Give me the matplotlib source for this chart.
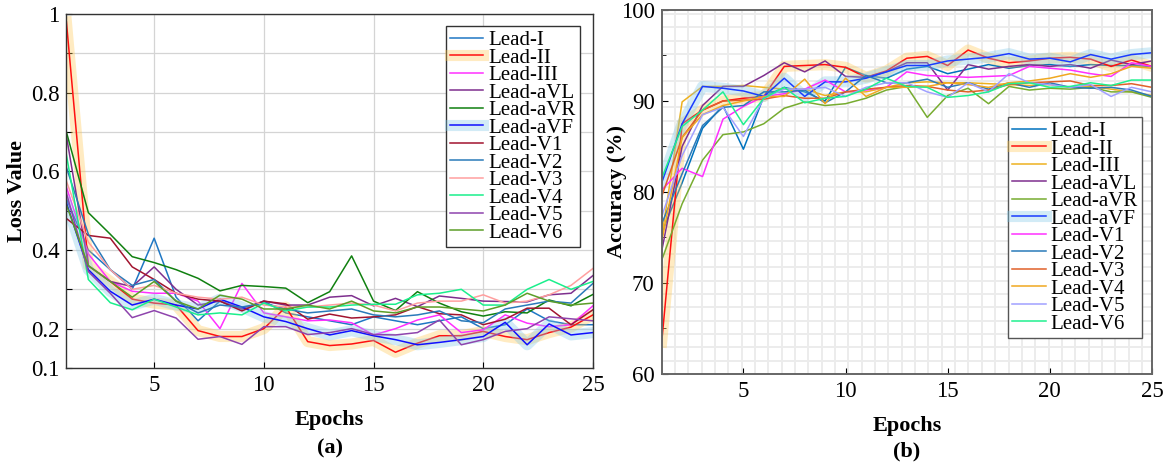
import numpy as np
import matplotlib
matplotlib.use("Agg")
import matplotlib.pyplot as plt
import matplotlib.patheffects as pe

plt.rcParams['font.family'] = ['Liberation Serif', 'DejaVu Serif']

epochs = np.arange(1, 26)
leads = ["Lead-I", "Lead-II", "Lead-III", "Lead-aVL", "Lead-aVR", "Lead-aVF",
         "Lead-V1", "Lead-V2", "Lead-V3", "Lead-V4", "Lead-V5", "Lead-V6"]

# (a) loss per epoch
loss_I   = [0.53, 0.40, 0.35, 0.30, 0.43, 0.28, 0.22, 0.27, 0.25, 0.27, 0.24, 0.23, 0.22,
            0.21, 0.23, 0.22, 0.21, 0.22, 0.23, 0.20, 0.21, 0.25, 0.22, 0.21, 0.21]
loss_II  = [0.98, 0.36, 0.32, 0.275, 0.265, 0.26, 0.195, 0.18, 0.18, 0.20, 0.255, 0.167, 0.157,
            0.161, 0.17, 0.14, 0.163, 0.182, 0.182, 0.193, 0.18, 0.172, 0.19, 0.204, 0.235]
loss_III = [0.56, 0.39, 0.32, 0.295, 0.29, 0.29, 0.27, 0.20, 0.315, 0.24, 0.23, 0.22, 0.222,
            0.215, 0.184, 0.20, 0.222, 0.235, 0.19, 0.197, 0.235, 0.214, 0.205, 0.21, 0.258]
loss_aVL = [0.69, 0.36, 0.32, 0.307, 0.357, 0.30, 0.26, 0.27, 0.25, 0.27, 0.26, 0.26, 0.28,
            0.284, 0.258, 0.277, 0.256, 0.283, 0.277, 0.27, 0.269, 0.268, 0.286, 0.29, 0.335]
loss_aVR = [0.70, 0.495, 0.44, 0.383, 0.368, 0.35, 0.328, 0.296, 0.31, 0.307, 0.303, 0.266, 0.294,
            0.385, 0.27, 0.246, 0.294, 0.265, 0.243, 0.232, 0.243, 0.24, 0.273, 0.258, 0.287]
loss_aVF = [0.52, 0.35, 0.295, 0.26, 0.275, 0.26, 0.25, 0.275, 0.255, 0.23, 0.218, 0.20, 0.184,
            0.195, 0.182, 0.172, 0.159, 0.165, 0.172, 0.18, 0.216, 0.159, 0.212, 0.184, 0.19]
loss_V1  = [0.48, 0.437, 0.43, 0.357, 0.325, 0.29, 0.275, 0.27, 0.245, 0.27, 0.263, 0.224, 0.237,
            0.227, 0.23, 0.235, 0.256, 0.238, 0.235, 0.21, 0.224, 0.252, 0.252, 0.21, 0.248]
loss_V2  = [0.61, 0.44, 0.35, 0.31, 0.325, 0.27, 0.24, 0.26, 0.255, 0.265, 0.25, 0.24, 0.245,
            0.25, 0.235, 0.23, 0.235, 0.245, 0.22, 0.215, 0.25, 0.26, 0.27, 0.265, 0.315]
loss_V3  = [0.575, 0.42, 0.35, 0.30, 0.31, 0.29, 0.28, 0.275, 0.28, 0.26, 0.255, 0.255, 0.26,
            0.265, 0.26, 0.245, 0.265, 0.27, 0.27, 0.286, 0.265, 0.27, 0.286, 0.31, 0.353]
loss_V4  = [0.642, 0.325, 0.266, 0.248, 0.275, 0.255, 0.235, 0.24, 0.235, 0.265, 0.245, 0.255, 0.255,
            0.26, 0.262, 0.262, 0.286, 0.29, 0.30, 0.26, 0.26, 0.30, 0.325, 0.30, 0.32]
loss_V5  = [0.545, 0.345, 0.29, 0.228, 0.246, 0.227, 0.173, 0.18, 0.16, 0.205, 0.205, 0.185, 0.19,
            0.20, 0.185, 0.184, 0.19, 0.222, 0.159, 0.172, 0.193, 0.20, 0.23, 0.225, 0.22]
loss_V6  = [0.515, 0.36, 0.32, 0.28, 0.32, 0.27, 0.25, 0.285, 0.275, 0.25, 0.25, 0.26, 0.25,
            0.27, 0.245, 0.24, 0.255, 0.255, 0.25, 0.245, 0.26, 0.29, 0.27, 0.26, 0.265]

# (b) accuracy per epoch (%)
acc_I   = [75.5, 81.0, 87.0, 89.5, 84.7, 90.5, 91.5, 91.0, 90.0, 93.7, 92.8, 92.5, 93.5,
           93.8, 93.0, 93.5, 94.0, 93.6, 93.9, 94.0, 93.8, 94.0, 93.9, 93.9, 93.8]
acc_II  = [63.5, 87.5, 89.0, 90.0, 90.3, 90.5, 93.8, 93.9, 94.0, 93.7, 92.6, 93.3, 94.7,
           94.9, 93.9, 95.6, 94.7, 94.2, 94.4, 94.7, 94.8, 94.6, 93.8, 94.5, 93.8]
acc_III = [75.0, 89.9, 91.6, 91.6, 91.7, 91.5, 91.3, 91.3, 90.6, 91.0, 91.0, 91.5, 92.0,
           92.1, 92.0, 92.0, 91.9, 91.8, 91.7, 91.8, 91.5, 91.6, 91.3, 91.0, 90.6]
acc_aVL = [73.5, 85.0, 89.5, 91.6, 91.6, 92.8, 94.2, 93.2, 94.4, 92.7, 92.6, 93.2, 94.2,
           94.2, 91.2, 94.0, 93.5, 93.8, 94.0, 93.8, 94.0, 93.6, 94.5, 94.0, 94.4]
acc_aVR = [72.5, 78.7, 83.5, 86.3, 86.6, 87.5, 89.2, 89.9, 89.5, 89.7, 90.3, 91.2, 91.6,
           88.2, 90.6, 91.4, 89.7, 91.6, 91.2, 91.4, 91.3, 91.5, 91.0, 91.0, 90.4]
acc_aVF = [81.0, 87.5, 91.6, 91.4, 91.1, 90.5, 92.5, 90.5, 92.1, 92.1, 92.5, 93.2, 93.9,
           93.9, 94.4, 94.6, 94.8, 95.2, 94.6, 94.7, 94.3, 95.1, 94.6, 95.1, 95.3]
acc_V1  = [80.2, 82.6, 81.7, 88.0, 89.4, 90.5, 90.8, 91.3, 92.3, 91.0, 91.2, 91.5, 93.2,
           92.8, 92.7, 92.6, 92.7, 92.8, 93.8, 93.6, 93.4, 93.0, 92.7, 94.2, 93.8]
acc_V2  = [76.5, 82.0, 87.3, 89.3, 89.5, 91.0, 91.0, 91.2, 89.8, 91.0, 92.8, 92.0, 92.0,
           92.4, 91.5, 92.0, 91.3, 92.0, 91.5, 92.0, 91.5, 91.4, 91.5, 91.2, 90.5]
acc_V3  = [79.5, 86.0, 89.0, 90.0, 90.1, 90.2, 90.6, 90.3, 90.3, 91.0, 91.3, 91.5, 91.7,
           91.6, 91.2, 91.0, 91.2, 91.8, 92.0, 92.1, 92.2, 91.7, 91.7, 91.9, 91.5]
acc_V4  = [74.5, 86.0, 88.5, 89.5, 90.0, 90.5, 90.5, 92.4, 89.7, 92.5, 90.5, 91.5, 91.5,
           91.6, 92.0, 91.8, 91.5, 92.0, 92.2, 92.5, 93.0, 92.6, 93.0, 93.8, 93.6]
acc_V5  = [77.3, 84.0, 88.5, 89.3, 86.1, 90.3, 91.3, 91.3, 91.5, 90.5, 91.5, 92.0, 92.0,
           91.0, 90.4, 92.0, 91.0, 93.0, 92.0, 91.8, 91.5, 91.8, 90.5, 91.5, 91.0]
acc_V6  = [81.5, 87.2, 89.0, 91.0, 87.4, 90.3, 91.5, 89.8, 90.3, 90.5, 91.3, 92.5, 91.6,
           91.5, 90.4, 90.6, 91.0, 91.9, 92.0, 91.5, 91.6, 92.0, 91.7, 92.3, 92.3]

loss_data = [loss_I, loss_II, loss_III, loss_aVL, loss_aVR, loss_aVF,
             loss_V1, loss_V2, loss_V3, loss_V4, loss_V5, loss_V6]
acc_data = [acc_I, acc_II, acc_III, acc_aVL, acc_aVR, acc_aVF,
            acc_V1, acc_V2, acc_V3, acc_V4, acc_V5, acc_V6]

loss_colors = ["#1f77c4", "#ff1010", "#ff30ff", "#7e2f8e", "#108010", "#1010ff",
               "#a2142f", "#2a7ab9", "#ff9f9f", "#1aef8c", "#8e44ad", "#5c9e28"]
acc_colors = ["#0072bd", "#ff1010", "#edb120", "#7e2f8e", "#77ac30", "#1a3cff",
              "#ff30ff", "#2a7ab9", "#e0602a", "#f0a820", "#a0a0ff", "#20f090"]

glow_II = [pe.Stroke(linewidth=8, foreground="#ffc850", alpha=0.35), pe.Normal()]
glow_aVF = [pe.Stroke(linewidth=8, foreground="#80c8e8", alpha=0.35), pe.Normal()]


def effects(i):
    if i == 1:
        return glow_II
    if i == 5:
        return glow_aVF
    return None


fig = plt.figure(figsize=(11.67, 4.62), dpi=100)
ax1 = fig.add_axes([0.0569, 0.2035, 0.4512, 0.7662])
ax2 = fig.add_axes([0.567, 0.1905, 0.4201, 0.7879])

# ---- (a) loss
for i, name in enumerate(leads):
    ax1.plot(epochs, loss_data[i], color=loss_colors[i], lw=1.1, label=name,
             path_effects=effects(i))
ax1.set_xlim(1, 25)
ax1.set_ylim(0.1, 1.0)
ax1.set_xticks([5, 10, 15, 20, 25])
yt = np.round(np.arange(0.1, 1.01, 0.1), 1)
ax1.set_yticks(yt)
ax1.set_yticklabels(["0.1", "0.2", "", "0.4", "", "0.6", "", "0.8", "", "1"])
ax1.grid(True, color="#d4d4d4", lw=0.9)
ax1.tick_params(direction="in", labelsize=16.5, length=4, pad=5)
for s in ax1.spines.values():
    s.set_color("#333333")
    s.set_linewidth(1.0)
ax1.set_ylabel("Loss Value", fontsize=16, fontweight="bold")
ax1.yaxis.set_label_coords(-0.074, 0.5)
ax1.set_xlabel("Epochs", fontsize=16, fontweight="bold", labelpad=10)
ax1.text(0.5, -0.2, "(a)", transform=ax1.transAxes, ha="center", va="top",
         fontsize=16, fontweight="bold")
leg1 = ax1.legend(loc="upper right", bbox_to_anchor=(0.975, 0.965), fontsize=15,
                  handlelength=1.6, handletextpad=0.25, labelspacing=-0.1,
                  borderpad=0.2, borderaxespad=0, fancybox=False, framealpha=1)
leg1.get_frame().set_edgecolor("#333333")
leg1.get_frame().set_linewidth(1.0)

# ---- (b) accuracy
for i, name in enumerate(leads):
    ax2.plot(epochs, acc_data[i], color=acc_colors[i], lw=1.1, label=name,
             path_effects=effects(i))
ax2.set_xlim(1, 25)
ax2.set_ylim(60, 100)
ax2.set_xticks([5, 10, 15, 20, 25])
ax2.set_yticks([60, 70, 80, 90, 100])
ax2.set_axisbelow(True)
# fine background grid
for gx in np.arange(1 + 0.653, 25, 0.653):
    ax2.axvline(gx, color="#ececec", lw=1.4, zorder=0)
for gy in np.arange(60 + 1.465, 100, 1.465):
    ax2.axhline(gy, color="#ececec", lw=1.4, zorder=0)
ax2.set_yticks(np.arange(65, 100, 5), minor=True)
ax2.tick_params(which="both", direction="in", labelsize=16.5, length=4, pad=5)
ax2.tick_params(which="minor", length=3)
for s in ax2.spines.values():
    s.set_color("#666666")
    s.set_linewidth(1.4)
ax2.set_ylabel("Accuracy (%)", fontsize=16, fontweight="bold")
ax2.yaxis.set_label_coords(-0.07, 0.5)
ax2.set_xlabel("Epochs", fontsize=16, fontweight="bold", labelpad=10)
ax2.text(0.5, -0.185, "(b)", transform=ax2.transAxes, ha="center", va="top",
         fontsize=16, fontweight="bold")
leg2 = ax2.legend(loc="upper right", bbox_to_anchor=(0.98, 0.705), fontsize=15,
                  handlelength=1.6, handletextpad=0.25, labelspacing=-0.1,
                  borderpad=0.2, borderaxespad=0, fancybox=False, framealpha=1)
leg2.get_frame().set_edgecolor("#555555")
leg2.get_frame().set_linewidth(1.0)

fig.savefig("out.png", dpi=100)
